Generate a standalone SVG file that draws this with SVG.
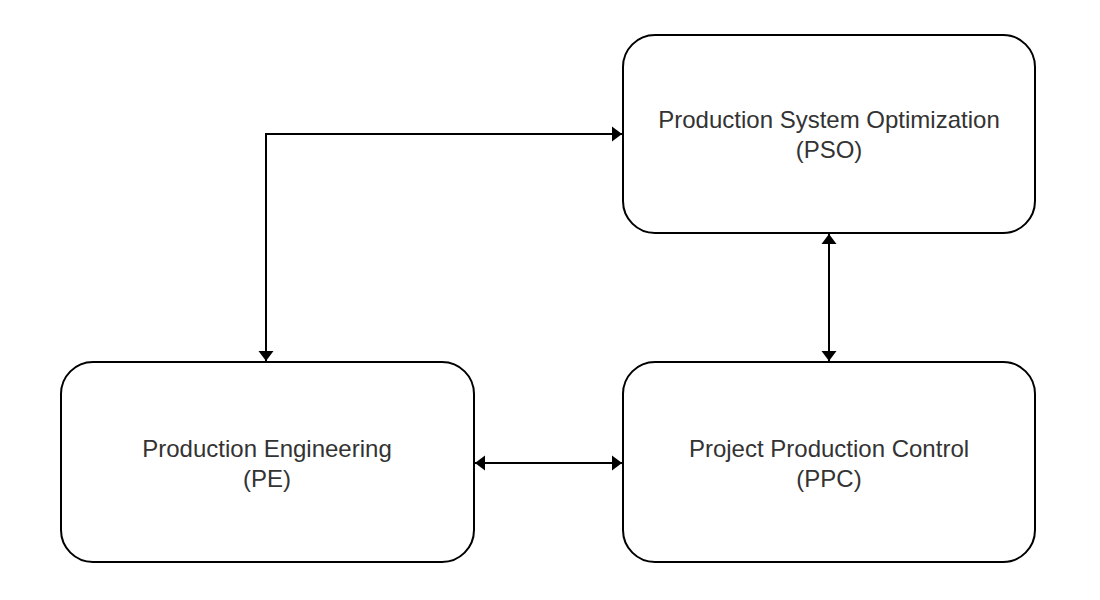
<svg xmlns="http://www.w3.org/2000/svg" width="1100" height="600" viewBox="0 0 1100 600">
  <style>
    .box { fill: #ffffff; stroke: #000000; stroke-width: 2; }
    .lbl { font-family: "Liberation Sans", Arial, sans-serif; font-size: 24px; fill: #333333; text-anchor: middle; }
    .conn { fill: none; stroke: #000000; stroke-width: 2; marker-start: url(#arr); marker-end: url(#arr); }
  </style>
  <defs>
    <marker id="arr" viewBox="0 0 10 16" refX="10" refY="8" markerWidth="10" markerHeight="16" markerUnits="userSpaceOnUse" orient="auto-start-reverse">
      <path d="M0,0.5 L10,8 L0,15.5 z" fill="#000000"/>
    </marker>
  </defs>
  <rect width="1100" height="600" fill="#ffffff"/>
  <g id="connectors">
    <path class="conn" d="M266,361 L266,134 L622,134"/>
    <path class="conn" d="M829,234 L829,361"/>
    <path class="conn" d="M475,463 L622,463"/>
  </g>
  <g id="node-pso">
    <rect class="box" x="623" y="35" width="412" height="198" rx="32" ry="32"/>
    <text class="lbl" x="829" y="128">Production System Optimization</text>
    <text class="lbl" x="829" y="158">(PSO)</text>
  </g>
  <g id="node-pe">
    <rect class="box" x="61" y="362" width="413" height="200" rx="32" ry="32"/>
    <text class="lbl" x="267" y="457">Production Engineering</text>
    <text class="lbl" x="267" y="487">(PE)</text>
  </g>
  <g id="node-ppc">
    <rect class="box" x="623" y="362" width="412" height="200" rx="32" ry="32"/>
    <text class="lbl" x="829" y="457">Project Production Control</text>
    <text class="lbl" x="829" y="487">(PPC)</text>
  </g>
</svg>
